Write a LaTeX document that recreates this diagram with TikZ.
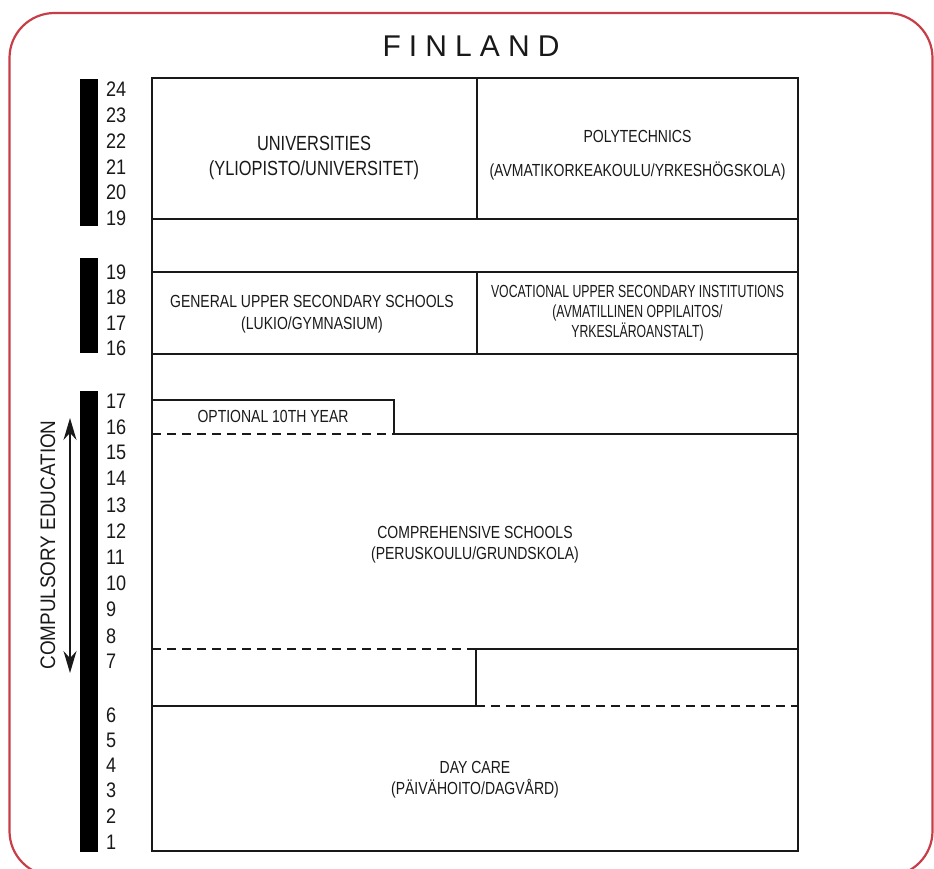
\documentclass[tikz,border=0pt]{standalone}
\usepackage{fontspec}
\setmainfont{Liberation Sans}[FakeStretch=0.8]
\newfontfamily\numfont{Liberation Sans}[FakeStretch=0.86]
\newfontfamily\sidefont{Liberation Sans}[FakeStretch=0.9]
\newfontfamily\narrowfont{Liberation Sans}[FakeStretch=0.7]
\newfontfamily\titlefont{Liberation Sans}[LetterSpace=27]
\usetikzlibrary{arrows.meta}
\definecolor{framered}{RGB}{200,62,72}
\definecolor{ink}{RGB}{25,25,25}
\begin{document}
\begin{tikzpicture}[x=1pt,y=-1pt,
  boxline/.style={line width=2.8pt, draw=ink},
  dashline/.style={line width=2.8pt, draw=ink, dash pattern=on 9pt off 6pt},
  lbl/.style={align=center, font=\fontsize{17.5}{21}\selectfont, text=ink, inner sep=0pt},
  num/.style={anchor=west, font=\numfont\fontsize{21}{21}\selectfont, text=ink, inner sep=0pt},
  agebar/.style={fill=black}
]
\useasboundingbox (0,0) rectangle (934,869);
% red frame
\begin{scope}
\clip (0,0) rectangle (934,869);
\draw[framered, line width=2.2pt, rounded corners=45pt] (9.5,13) rectangle (932.5,876);
\end{scope}

% title
\node[font=\titlefont\fontsize{30}{30}\selectfont, text=ink] (title) at (471,46) {FINLAND};

% age bars
\fill[agebar] (80,79) rectangle (98,226);
\fill[agebar] (80,258) rectangle (98,353);
\fill[agebar] (80,391) rectangle (98,852);

% age numbers
\foreach \n/\y in {24/89,23/115,22/141,21/167,20/192,19/218}
  \node[num] (a\n) at (106,\y) {\n};
\foreach \n/\y in {19/272,18/297,17/323,16/348}
  \node[num] (b\n) at (106,\y) {\n};
\foreach \n/\y in {17/401,16/427,15/452,14/478,13/505,12/531,11/557,10/583,9/609,8/636,7/661,6/715,5/740,4/765,3/790,2/816,1/842}
  \node[num] (c\n) at (106,\y) {\n};

% compulsory education
\coordinate (ctop) at (70,418);
\coordinate (cbot) at (70,673);
\draw[line width=1.3pt, draw=ink, {Stealth[length=22pt,width=13pt]}-{Stealth[length=22pt,width=13pt]}] (ctop) -- (cbot);
\node[rotate=90, font=\sidefont\fontsize{21}{21}\selectfont, text=ink, inner sep=0pt] (comp) at (48,545) {COMPULSORY EDUCATION};

% structure lines
\draw[boxline] (152,78) rectangle (798,851);
\draw[boxline] (477,78) -- (477,219);
\draw[boxline] (152,219) -- (798,219);
\draw[boxline] (152,272) -- (798,272);
\draw[boxline] (477,272) -- (477,354);
\draw[boxline] (152,354) -- (798,354);
\draw[boxline] (152,400) -- (394,400) -- (394,434) -- (798,434);
\draw[dashline] (152,434) -- (394,434);
\draw[dashline] (152,649) -- (476,649);
\draw[boxline] (476,649) -- (798,649);
\draw[boxline] (476,649) -- (476,706);
\draw[boxline] (152,706) -- (476,706);
\draw[dashline] (476,706) -- (798,706);

% labels
\node[lbl, font=\fontsize{20.5}{25}\selectfont] (uni) at (314,158) {UNIVERSITIES\\(YLIOPISTO/UNIVERSITET)};
\node[lbl, font=\fontsize{17.5}{34}\selectfont] (poly) at (637.5,155) {POLYTECHNICS\\(AVMATIKORKEAKOULU/YRKESHÖGSKOLA)};
\node[lbl, font=\fontsize{17.5}{22}\selectfont] (gen) at (312,314) {GENERAL UPPER SECONDARY SCHOOLS\\(LUKIO/GYMNASIUM)};
\node[lbl, font=\narrowfont\fontsize{17.5}{20}\selectfont] (voc) at (637.5,313) {VOCATIONAL UPPER SECONDARY INSTITUTIONS\\(AVMATILLINEN OPPILAITOS/\\YRKESLÄROANSTALT)};
\node[lbl] (opt) at (273,416) {OPTIONAL 10TH YEAR};
\node[lbl] (compr) at (475,544.5) {COMPREHENSIVE SCHOOLS\\(PERUSKOULU/GRUNDSKOLA)};
\node[lbl] (day) at (475,780) {DAY CARE\\(PÄIVÄHOITO/DAGVÅRD)};
\end{tikzpicture}
\end{document}
